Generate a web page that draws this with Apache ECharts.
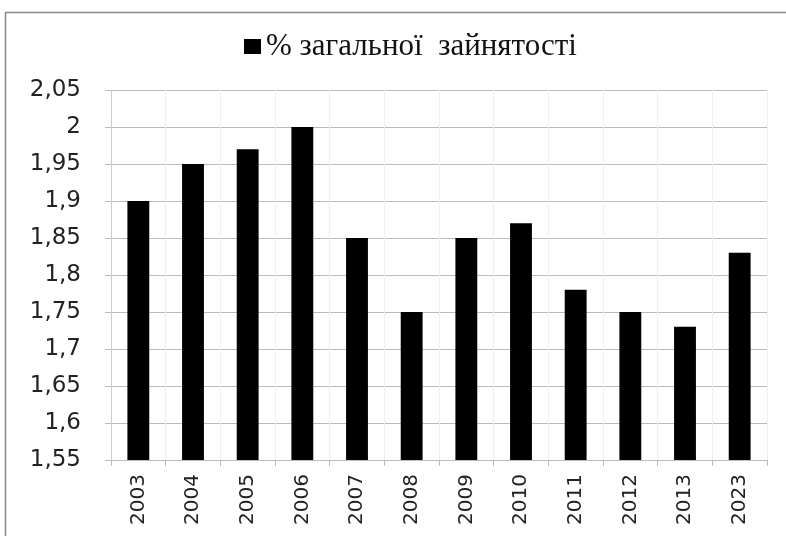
<!DOCTYPE html>
<html><head><meta charset="utf-8">
<script src="https://cdn.jsdelivr.net/npm/echarts@6/dist/echarts.min.js"></script>
<style>html,body{margin:0;padding:0;background:#fff}#c{width:786px;height:536px}</style>
</head><body><div id="c"></div>
<script>
const categories = ['2003','2004','2005','2006','2007','2008','2009','2010','2011','2012','2013','2023'];
const values = [1.90,1.95,1.97,2.00,1.85,1.75,1.85,1.87,1.78,1.75,1.73,1.83];
const seriesName = '% загальної  зайнятості';
const yMin = 1.55, yMax = 2.05, yStep = 0.05;

const chart = echarts.init(document.getElementById('c'));
chart.setOption({
  animation: false,
  backgroundColor: '#fff',
  graphic: [{type:'rect', shape:{x:5.5,y:12.5,width:800,height:600}, style:{fill:'none', stroke:'#888', lineWidth:1.5}, silent:true}],
  legend: {
    top: 26, left: 239, itemWidth: 17, itemHeight: 15, itemGap: 6,
    icon: 'rect',
    textStyle: {fontFamily: 'Liberation Serif', fontSize: 31, color: '#111'},
    data: [seriesName]
  },
  grid: {left: 111, right: 19, top: 90, bottom: 76, containLabel: false},
  xAxis: {
    type: 'category', data: categories,
    axisLine: {lineStyle: {color: '#bbb'}},
    axisTick: {show: true, alignWithLabel: false, length: 6, lineStyle: {color: '#bbb'}},
    splitLine: {show: true, lineStyle: {color: '#eee'}},
    axisLabel: {rotate: 90, margin: 14, fontFamily: 'DejaVu Sans', fontSize: 20, color: '#222'}
  },
  yAxis: {
    type: 'value', min: yMin, max: yMax, interval: yStep,
    axisLine: {show: true, lineStyle: {color: '#ccc'}},
    axisTick: {show: true, length: 6, inside: false, lineStyle: {color: '#bbb'}},
    splitLine: {lineStyle: {color: '#bbb', width: 1}},
    axisLabel: {
      margin: 30, fontFamily: 'DejaVu Sans', fontSize: 23, color: '#222',
      formatter: v => (Math.round(v*100)/100).toString().replace('.', ',')
    }
  },
  series: [{
    name: seriesName, type: 'bar', data: values, barWidth: '40%',
    itemStyle: {color: '#000'}
  }]
});
</script></body></html>
